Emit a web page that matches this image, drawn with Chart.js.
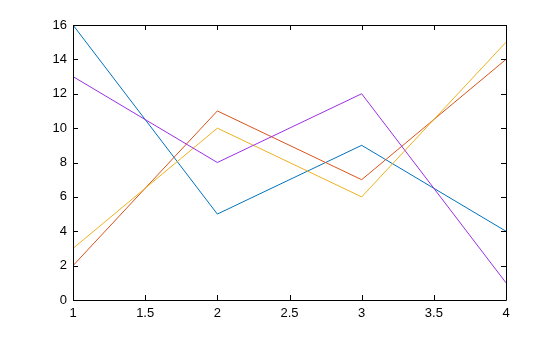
<!DOCTYPE html>
<html>
<head>
<meta charset="utf-8">
<script src="https://cdn.jsdelivr.net/npm/chart.js@4/dist/chart.umd.min.js"></script>
<style>
    html, body { margin: 0; padding: 0; background: #fff; }
    canvas { display: block; }
</style>
</head>
<body>
<canvas id="grafico" width="560" height="337"></canvas>
<script>
// Valores del eje x y de cada serie.
const X_VALUES = [1, 2, 3, 4];
const SERIE_AZUL = [16, 5, 9, 4];
const SERIE_NARANJA = [2, 11, 7, 14];
const SERIE_AMARILLA = [3, 10, 6, 15];
const SERIE_MORADA = [13, 8, 12, 1];
// Marcas de los ejes.
const X_TICKS = [1, 1.5, 2, 2.5, 3, 3.5, 4];
const Y_TICKS = [0, 2, 4, 6, 8, 10, 12, 14, 16];

const COLORES = ['#0072BD', '#D95319', '#EDB120', '#9b30e6'];
const SERIES = [SERIE_AZUL, SERIE_NARANJA, SERIE_AMARILLA, SERIE_MORADA];

// Se arma cada dataset con pares x/y.
const datasets = SERIES.map((serie, i) => ({
    data: serie.map((v, j) => ({ x: X_VALUES[j], y: v })),
    borderColor: COLORES[i],
    borderWidth: 1,
    pointRadius: 0,
    fill: false,
    tension: 0,
    order: SERIES.length - i
}));

/*
*   Plugin para dibujar la caja de los ejes y las marcas hacia adentro.
*/
const cajaEjes = {
    id: 'cajaEjes',
    afterDraw(chart) {
        const ctx = chart.ctx;
        const area = chart.chartArea;
        const x = chart.scales.x;
        const y = chart.scales.y;
        const largo = 5;
        ctx.save();
        ctx.strokeStyle = '#000';
        ctx.lineWidth = 1;
        ctx.beginPath();
        ctx.rect(Math.round(area.left) + 0.5, Math.round(area.top) + 0.5,
            Math.round(area.right - area.left), Math.round(area.bottom - area.top));
        X_TICKS.forEach(t => {
            const px = Math.round(x.getPixelForValue(t)) + 0.5;
            ctx.moveTo(px, area.bottom);
            ctx.lineTo(px, area.bottom - largo);
            ctx.moveTo(px, area.top);
            ctx.lineTo(px, area.top + largo);
        });
        Y_TICKS.forEach(t => {
            const py = Math.round(y.getPixelForValue(t)) + 0.5;
            ctx.moveTo(area.left, py);
            ctx.lineTo(area.left + largo, py);
            ctx.moveTo(area.right, py);
            ctx.lineTo(area.right - largo, py);
        });
        ctx.stroke();
        ctx.restore();
    }
};

const fuente = { family: 'Liberation Sans, Arial, Helvetica, sans-serif', size: 13 };

const context = document.getElementById('grafico').getContext('2d');
const chart = new Chart(context, {
    type: 'line',
    data: { datasets: datasets },
    options: {
        responsive: false,
        animation: false,
        layout: { padding: { top: 25, right: 54, left: 0, bottom: 0 } },
        plugins: {
            legend: { display: false },
            tooltip: { enabled: false }
        },
        scales: {
            x: {
                type: 'linear',
                min: 1,
                max: 4,
                afterBuildTicks: (scale) => { scale.ticks = X_TICKS.map(v => ({ value: v })); },
                afterFit: (scale) => { scale.height = 37; },
                grid: { display: false, drawTicks: false },
                border: { display: false },
                ticks: { color: '#000', font: fuente, padding: 6, maxRotation: 0, callback: (v) => String(v) }
            },
            y: {
                type: 'linear',
                min: 0,
                max: 16,
                afterBuildTicks: (scale) => { scale.ticks = Y_TICKS.map(v => ({ value: v })); },
                afterFit: (scale) => { scale.width = 73; },
                grid: { display: false, drawTicks: false },
                border: { display: false },
                ticks: { color: '#000', font: fuente, padding: 6, callback: (v) => String(v) }
            }
        }
    },
    plugins: [cajaEjes]
});
</script>
</body>
</html>
